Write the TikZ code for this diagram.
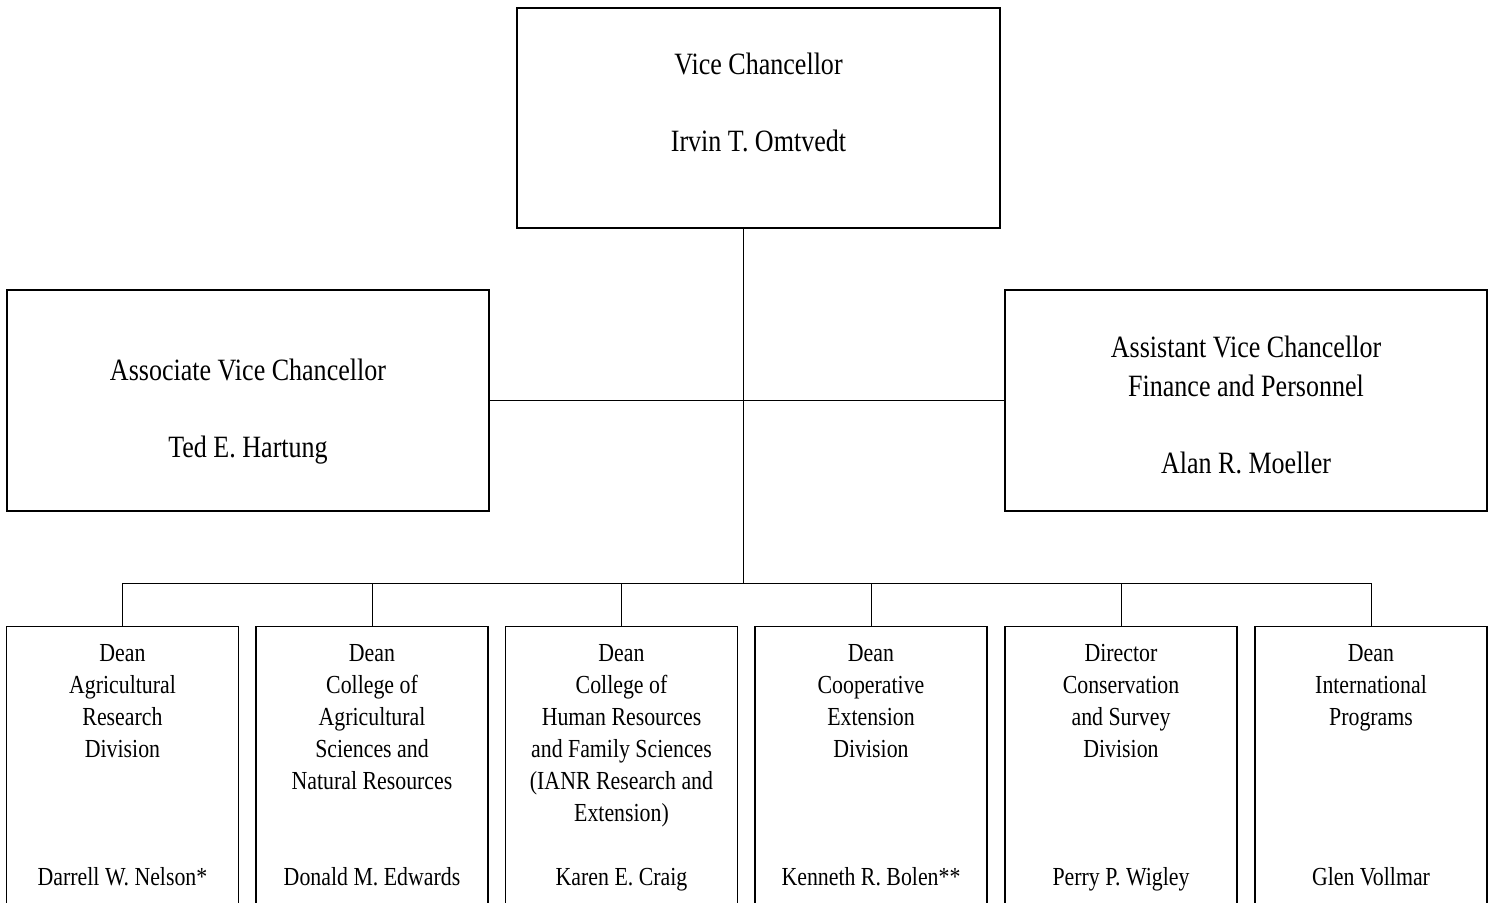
\documentclass[tikz,border=0pt]{standalone}
\usepackage{fontspec}
\setmainfont{Liberation Serif}[FakeStretch=0.84]
\begin{document}
\begin{tikzpicture}[x=1pt,y=-1pt,
  box/.style={draw=black,line width=1.3pt,rectangle,inner sep=0pt},
  conn/.style={draw=black,line width=1pt},
  bigtext/.style={align=center,inner sep=0pt,font=\fontsize{31}{38.5}\selectfont},
  smalltext/.style={align=center,inner sep=0pt,font=\fontsize{26}{32}\selectfont},
]
\useasboundingbox (0,0) rectangle (1495,902);
\clip (0,0) rectangle (1495,902);
% boxes
\node[box,minimum width=483pt,minimum height=220pt] (vc) at (758.5,118) {};
\node[box,minimum width=482pt,minimum height=221pt] (avc) at (248,400.5) {};
\node[box,minimum width=482pt,minimum height=221pt] (asvc) at (1246,400.5) {};
\foreach \i/\x in {1/122.5,2/372,3/621.5,4/871,5/1121,6/1371}{
  \node[box,minimum width=232pt,minimum height=320pt,anchor=north] (b\i) at (\x,626) {};
}
% texts
\node[bigtext,anchor=north] (tvc) at (758.5,53) {\vphantom{l}Vice Chancellor\\[38.5pt]Irvin T. Omtvedt};
\node[bigtext,anchor=north] (tavc) at (248,359) {\vphantom{l}Associate Vice Chancellor\\[38.5pt]Ted E. Hartung};
\node[bigtext,anchor=north] (tasvc) at (1246,336) {\vphantom{l}Assistant Vice Chancellor\\Finance and Personnel\\[38.5pt]Alan R. Moeller};
\node[smalltext,anchor=north] (t1) at (b1.north |- 0,643.2) {\vphantom{Dl}Dean\\Agricultural\\Research\\Division};
\node[smalltext,anchor=north] (t2) at (b2.north |- 0,643.2) {\vphantom{Dl}Dean\\College of\\Agricultural\\Sciences and\\Natural Resources};
\node[smalltext,anchor=north] (t3) at (b3.north |- 0,643.2) {\vphantom{Dl}Dean\\College of\\Human Resources\\and Family Sciences\\(IANR Research and\\Extension)};
\node[smalltext,anchor=north] (t4) at (b4.north |- 0,643.2) {\vphantom{Dl}Dean\\Cooperative\\Extension\\Division};
\node[smalltext,anchor=north] (t5) at (b5.north |- 0,643.2) {\vphantom{Dl}Director\\Conservation\\and Survey\\Division};
\node[smalltext,anchor=north] (t6) at (b6.north |- 0,643.2) {\vphantom{Dl}Dean\\International\\Programs};
\foreach \i/\n in {1/{Darrell W. Nelson*},2/{Donald M. Edwards},3/{Karen E. Craig},4/{Kenneth R. Bolen**},5/{Perry P. Wigley},6/{Glen Vollmar}}{
  \node[smalltext,anchor=base] (n\i) at (b\i.north |- 0,885) {\n};
}
% connectors
\coordinate (trunk) at (743,583);
\draw[conn] (vc.south -| trunk) -- (trunk);
\draw[conn] (avc.east) -- (asvc.west);
\draw[conn] (b1.north |- trunk) -- (b6.north |- trunk);
\foreach \i in {1,...,6}{
  \draw[conn] (b\i.north) -- (b\i.north |- trunk);
}
\end{tikzpicture}
\end{document}
